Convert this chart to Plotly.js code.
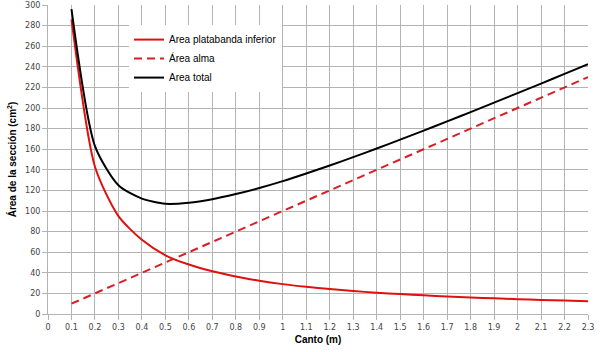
<!DOCTYPE html>
<html>
<head>
<meta charset="utf-8">
<script src="https://cdn.plot.ly/plotly-3.0.1.min.js"></script>
<style>html,body{margin:0;padding:0;background:#fff;}#chart{width:600px;height:352px;}</style>
</head>
<body>
<div id="chart"></div>
<script>
// Canto (m)
var canto = [0.1,0.2,0.3,0.4,0.5,0.6,0.7,0.8,0.9,1.0,1.1,1.2,1.3,1.4,1.5,1.6,1.7,1.8,1.9,2.0,2.1,2.2,2.3];
// Área platabanda inferior (cm²)
var areaPlatabanda = [286,143,95,72,57,48,41.5,36.5,32.3,29,26.4,24.2,22.3,20.7,19.3,18.1,17,16,15.2,14.4,13.7,13.1,12.5];
// Área alma (cm²)
var areaAlma = [10,20,30,40,50,60,70,80,90,100,110,120,130,140,150,160,170,180,190,200,210,220,230];
// Área total (cm²)
var areaTotal = [296,163,125,112,107,108,111.5,116.5,122.3,129,136.4,144.2,152.3,160.7,169.3,178.1,187,196,205.2,214.4,223.7,233.1,242.5];

var xTickVals = [0,0.1,0.2,0.3,0.4,0.5,0.6,0.7,0.8,0.9,1,1.1,1.2,1.3,1.4,1.5,1.6,1.7,1.8,1.9,2,2.1,2.2,2.3];
var xTickText = ["0","0.1","0.2","0.3","0.4","0.5","0.6","0.7","0.8","0.9","1","1.1","1.2","1.3","1.4","1.5","1.6","1.7","1.8","1.9","2","2.1","2.2","2.3"];

var traces = [
  {x: canto, y: areaPlatabanda, name: "Area platabanda inferior", mode: "lines",
   line: {color: "#e01010", width: 2, shape: "spline", smoothing: 0.7}},
  {x: canto, y: areaAlma, name: "Área alma", mode: "lines",
   line: {color: "#d81f26", width: 2, dash: "8px,5px"}},
  {x: canto, y: areaTotal, name: "Area total", mode: "lines",
   line: {color: "#000000", width: 2, shape: "spline", smoothing: 0.7}}
];

var axisFont = {family: "DejaVu Sans, Verdana, sans-serif", size: 8, color: "#444"};
var layout = {
  width: 600, height: 352,
  margin: {l: 48, r: 12, t: 5, b: 38},
  paper_bgcolor: "#fff", plot_bgcolor: "#fff",
  showlegend: true,
  legend: {x: 0.15, y: 0.935, xanchor: "left", yanchor: "top", bgcolor: "#fff",
           font: {family: "Liberation Sans, Arial, sans-serif", size: 10, color: "#000"},
           tracegroupgap: 0},
  xaxis: {
    range: [0, 2.3], tickmode: "array", tickvals: xTickVals, ticktext: xTickText,
    showgrid: true, gridcolor: "#b3b3b3", gridwidth: 1,
    showline: true, linecolor: "#b3b3b3", linewidth: 1,
    ticks: "outside", ticklen: 5, tickcolor: "#b3b3b3",
    zeroline: false, tickfont: axisFont,
    title: {text: "Canto (m)", font: {family: "Liberation Sans, Arial, sans-serif", size: 10, color: "#000", weight: "bold"}, standoff: 5}
  },
  yaxis: {
    range: [0, 300], dtick: 20, tick0: 0,
    showgrid: true, gridcolor: "#b3b3b3", gridwidth: 1,
    showline: true, linecolor: "#b3b3b3", linewidth: 1,
    ticks: "outside", ticklen: 5, tickcolor: "#b3b3b3",
    zeroline: false, tickfont: axisFont,
    title: {text: "Área de la sección (cm<sup>2</sup>)", font: {family: "Liberation Sans, Arial, sans-serif", size: 10, color: "#000", weight: "bold"}, standoff: 6}
  }
};

Plotly.newPlot("chart", traces, layout, {displayModeBar: false, staticPlot: true});
</script>
</body>
</html>
